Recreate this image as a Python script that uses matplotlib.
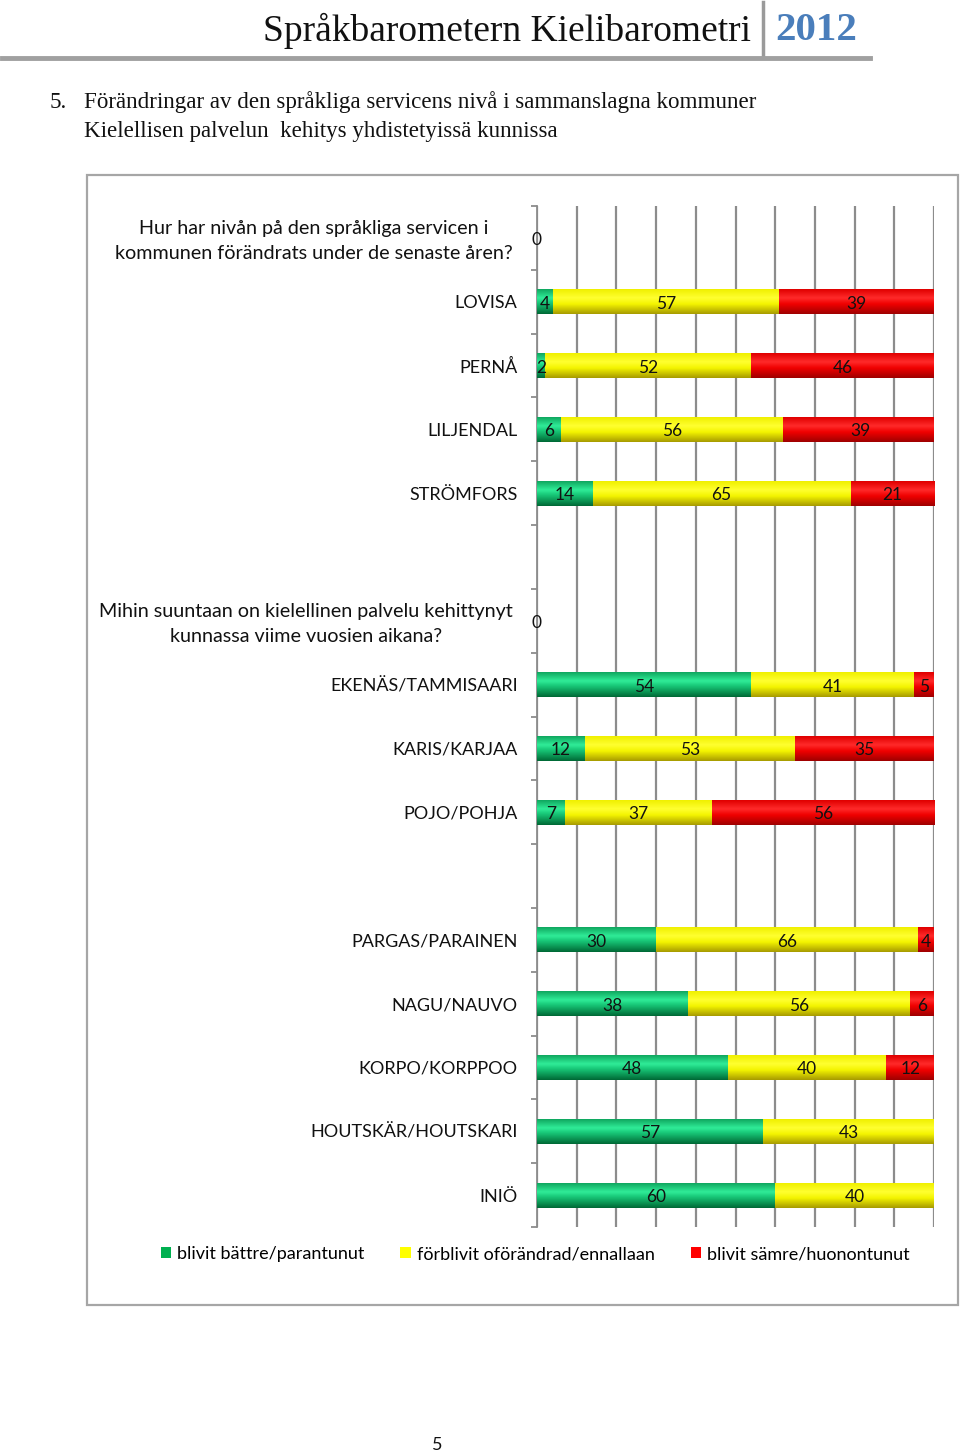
import numpy as np
import matplotlib
matplotlib.use("Agg")
import matplotlib.pyplot as plt
from matplotlib.patches import Patch, Rectangle
from matplotlib.lines import Line2D
from matplotlib.colors import to_rgb
from matplotlib.transforms import ScaledTranslation

# ---------------- data ----------------
categories = [
    "Hur har nivån på den språkliga servicen i\nkommunen förändrats under de senaste åren?",
    "LOVISA", "PERNÅ", "LILJENDAL", "STRÖMFORS", "",
    "Mihin suuntaan on kielellinen palvelu kehittynyt\nkunnassa viime vuosien aikana?",
    "EKENÄS/TAMMISAARI", "KARIS/KARJAA", "POJO/POHJA", "",
    "PARGAS/PARAINEN", "NAGU/NAUVO", "KORPO/KORPPOO", "HOUTSKÄR/HOUTSKARI", "INIÖ",
]
nan = np.nan
better = [0, 4, 2, 6, 14, nan, 0, 54, 12, 7, nan, 30, 38, 48, 57, 60]
same = [0, 57, 52, 56, 65, nan, 0, 41, 53, 37, nan, 66, 56, 40, 43, 40]
worse = [0, 39, 46, 39, 21, nan, 0, 5, 35, 56, nan, 4, 6, 12, nan, nan]
series_names = ["blivit bättre/parantunut", "förblivit oförändrad/ennallaan", "blivit sämre/huonontunut"]
x_ticks = list(range(0, 101, 10))

header_title = "Språkbarometern Kielibarometri"
header_year = "2012"
subtitle_num = "5."
subtitle_1 = "Förändringar av den språkliga servicens nivå i sammanslagna kommuner"
subtitle_2 = "Kielellisen palvelun  kehitys yhdistetyissä kunnissa"
page_number = "5"

# ---------------- styling ----------------
W, H = 960, 1455
fig = plt.figure(figsize=(W / 100, H / 100), dpi=100)
SANS = ["Lato", "DejaVu Sans"]
SERIF = ["Liberation Serif", "DejaVu Serif"]

def fx(x):
    return x / W

def fy(y):
    return 1 - y / H

legend_colors = ["#00b050", "#ffff00", "#ff0000"]
gradients = [
    # top -> bottom stops
    [(0.0, "#10a860"), (0.35, "#30ec98"), (0.55, "#18c878"), (1.0, "#006a36")],
    [(0.0, "#f0f000"), (0.35, "#ffff30"), (0.6, "#f4f400"), (1.0, "#a89c00")],
    [(0.0, "#e00000"), (0.35, "#ff2a2a"), (0.6, "#f00000"), (1.0, "#a00000")],
]

def grad_img(stops, n=40):
    pos = np.array([s[0] for s in stops])
    cols = np.array([to_rgb(s[1]) for s in stops])
    t = np.linspace(0, 1, n)
    img = np.stack([np.interp(t, pos, cols[:, k]) for k in range(3)], axis=-1)
    return img[:, None, :]

# ---------------- header ----------------
fig.text(fx(751), fy(31), header_title, family=SERIF, fontsize=27, ha="right", va="center", color="#111111")
fig.text(fx(775), fy(31), header_year, family=SERIF, fontsize=29.5, weight="bold", ha="left", va="center", color="#4a7ebb")
fig.add_artist(Line2D([fx(763), fx(763)], [fy(2), fy(57)], color="#9a9a9a", lw=2.5))
fig.add_artist(Line2D([fx(2), fx(870)], [fy(58), fy(58)], color="#a0a0a0", lw=3.5))

fig.text(fx(50), fy(102), subtitle_num, family=SERIF, fontsize=16.6, ha="left", va="center", color="#111111")
fig.text(fx(84), fy(102), subtitle_1, family=SERIF, fontsize=16.6, ha="left", va="center", color="#111111")
fig.text(fx(84), fy(132), subtitle_2, family=SERIF, fontsize=16.6, ha="left", va="center", color="#111111")

# chart frame
fig.add_artist(Rectangle((fx(86.5), fy(1305)), fx(958) - fx(86.5), fy(175) - fy(1305),
                         fill=False, edgecolor="#a6a6a6", lw=1.6, transform=fig.transFigure))

# ---------------- axes ----------------
ax_l, ax_r, ax_t, ax_b = 537, 934, 206, 1227
ax = fig.add_axes([fx(ax_l), fy(ax_b), (ax_r - ax_l) / W, (ax_b - ax_t) / H])
n = len(categories)
ypos = np.arange(n)

bar_h = 0.39
series = [better, same, worse]
left = np.zeros(n)
labelled = set()
lab_off = ScaledTranslation(0, -2 / 100, fig.dpi_scale_trans)
for si, vals in enumerate(series):
    v = np.array(vals, dtype=float)
    vv = np.nan_to_num(v)
    img = grad_img(gradients[si])
    for i in range(n):
        if np.isnan(v[i]):
            continue
        if vv[i] > 0:
            ax.imshow(img, extent=(left[i], left[i] + vv[i], i + bar_h / 2, i - bar_h / 2),
                      aspect="auto", zorder=3, interpolation="bilinear")
        cx = left[i] + vv[i] / 2
        key = (round(cx, 3), i)
        if key not in labelled:
            labelled.add(key)
            ax.text(cx, i, f"{int(v[i])}", ha="center", va="center", fontsize=12.5,
                    family=SANS, color="#111111", zorder=5, clip_on=False,
                    transform=ax.transData + lab_off)
    left += vv
ax.set_ylim(n - 0.5, -0.5)
ax.set_xlim(0, 100)

ax.set_xticks(x_ticks)
ax.tick_params(axis="x", length=0, labelbottom=False)
ax.grid(axis="x", color="#8c8c8c", lw=1.6, zorder=0)
ax.set_axisbelow(True)

ax.set_yticks(ypos)
ax.set_yticklabels(["" if "\n" in c else c for c in categories], family=SANS, fontsize=13, color="#111111")
ax.tick_params(axis="y", which="major", length=0, pad=14)
# multi-line question labels, centred, placed as category labels
for i, c in enumerate(categories):
    if "\n" in c:
        ax.text(0, i, c, transform=ax.get_yaxis_transform() + ScaledTranslation(-24 / 100, -3 / 100, fig.dpi_scale_trans),
                ha="right", va="center", multialignment="center", family=SANS, fontsize=14.2,
                linespacing=1.6, color="#111111")
ax.set_yticks(np.arange(-0.5, n, 1), minor=True)
ax.tick_params(axis="y", which="minor", length=4, width=1.3, color="#8c8c8c", direction="out")
for s in ["top", "right", "bottom"]:
    ax.spines[s].set_visible(False)
ax.spines["left"].set_color("#8c8c8c")
ax.spines["left"].set_linewidth(1.3)

# legend
handles = [Patch(facecolor=c, edgecolor="none") for c in legend_colors]
fig.legend(handles, series_names, loc="center", bbox_to_anchor=(fx(535), fy(1254)), ncol=3,
           frameon=False, prop={"family": SANS, "size": 13}, handlelength=0.6, handleheight=0.6,
           handletextpad=0.3, columnspacing=2.0)

fig.text(fx(437), fy(1445), page_number, family=SANS, fontsize=13, ha="center", va="center", color="#111111")

fig.savefig("out.png", dpi=100)
